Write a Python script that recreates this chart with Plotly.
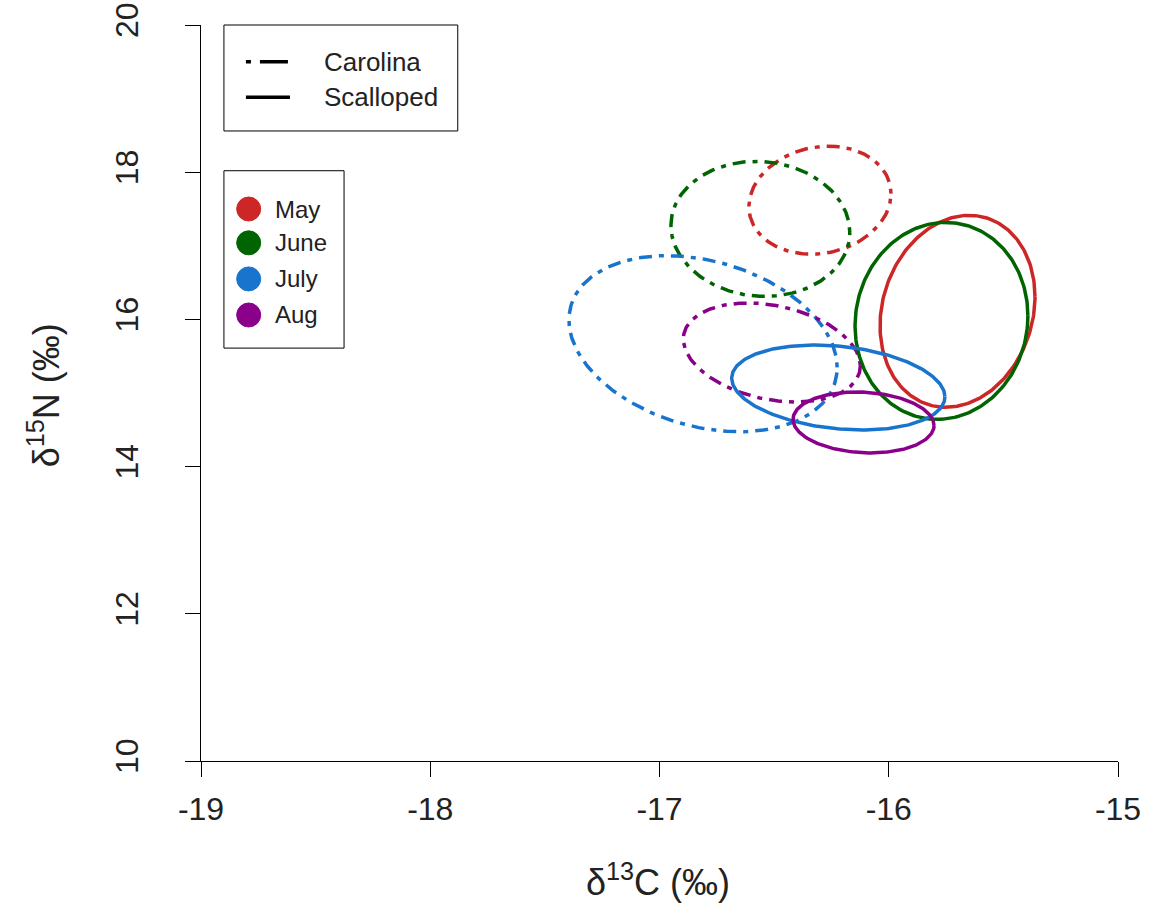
import numpy as np
import plotly.graph_objects as go

# Standard ellipses of d13C / d15N by month and species
months = ["May", "June", "July", "Aug"]
month_colors = ["#CD2626", "#006400", "#1874CD", "#8B008B"]
species = ["Carolina", "Scalloped"]
species_dash = ["5px,7px,13px,7px", "solid"]
# the short legend sample shows a single dot followed by one dash
legend_dash = ["5px,9px,28px,20px", "solid"]

# Carolina (dash-dot) ellipse parameters per month
carolina_cx = [-16.30, -16.56, -16.81, -16.51]
carolina_cy = [17.62, 17.23, 15.67, 15.55]
carolina_sx = [0.31, 0.39, 0.585, 0.386]
carolina_sy = [0.734, 0.917, 1.196, 0.673]
carolina_rho = [0.12, -0.05, -0.27, -0.27]

# Scalloped (solid) ellipse parameters per month
scalloped_cx = [-15.70, -15.77, -16.22, -16.11]
scalloped_cy = [16.11, 15.98, 15.075, 14.60]
scalloped_sx = [0.338, 0.377, 0.465, 0.3075]
scalloped_sy = [1.304, 1.338, 0.577, 0.414]
scalloped_rho = [0.15, 0.05, -0.22, -0.10]

x_ticks = [-19, -18, -17, -16, -15]
y_ticks = [10, 12, 14, 16, 18, 20]

ellipse_sets = {
    "Carolina": (carolina_cx, carolina_cy, carolina_sx, carolina_sy, carolina_rho),
    "Scalloped": (scalloped_cx, scalloped_cy, scalloped_sx, scalloped_sy, scalloped_rho),
}


def ellipse(cx, cy, sx, sy, rho, n=240):
    t = np.linspace(0, 2 * np.pi, n)
    x = cx + sx * np.cos(t)
    y = cy + sy * (rho * np.cos(t) + np.sqrt(1 - rho ** 2) * np.sin(t))
    return x, y


fig = go.Figure()
LW = 3.5
for sp, dash in zip(species, species_dash):
    cxs, cys, sxs, sys_, rhos = ellipse_sets[sp]
    for i, m in enumerate(months):
        ex, ey = ellipse(cxs[i], cys[i], sxs[i], sys_[i], rhos[i])
        fig.add_trace(go.Scatter(
            x=ex, y=ey, mode="lines", name=f"{sp} {m}",
            line=dict(color=month_colors[i], width=LW, dash=dash),
            showlegend=False, hoverinfo="skip",
        ))

FONT = "Liberation Sans, Arial, sans-serif"
shapes = []
annotations = []

# Species legend box (line types)
shapes.append(dict(type="rect", xref="paper", yref="paper",
                   x0=0.025, x1=0.280, y0=0.856, y1=1.0,
                   line=dict(color="black", width=1), fillcolor="white", layer="above"))
legend_line_y = [0.950, 0.902]
for sp, dash, ly in zip(species, legend_dash, legend_line_y):
    shapes.append(dict(type="line", xref="paper", yref="paper",
                       x0=0.049, x1=0.097, y0=ly, y1=ly,
                       line=dict(color="black", width=LW, dash=dash), layer="above"))
    annotations.append(dict(text=sp, xref="paper", yref="paper", x=0.132, y=ly,
                            xanchor="left", yanchor="middle", showarrow=False,
                            font=dict(family=FONT, size=26, color="#222222")))

# Month legend box (colours)
shapes.append(dict(type="rect", xref="paper", yref="paper",
                   x0=0.025, x1=0.156, y0=0.561, y1=0.802,
                   line=dict(color="black", width=1), fillcolor="white", layer="above"))
legend_month_y = [0.750, 0.704, 0.655, 0.606]
for m, c, ly in zip(months, month_colors, legend_month_y):
    shapes.append(dict(type="circle", xref="paper", yref="paper",
                       xsizemode="pixel", ysizemode="pixel",
                       xanchor=0.052, yanchor=ly, x0=-12, x1=12, y0=-12, y1=12,
                       line=dict(color=c, width=1), fillcolor=c, layer="above"))
    annotations.append(dict(text=m, xref="paper", yref="paper", x=0.0785, y=ly,
                            xanchor="left", yanchor="middle", showarrow=False,
                            font=dict(family=FONT, size=24, color="#222222")))

# Axis titles
annotations.append(dict(text="δ<sup>13</sup>C (‰)", xref="paper", yref="paper",
                        x=0.498, y=0, yshift=-119, xanchor="center", yanchor="middle",
                        showarrow=False, font=dict(family=FONT, size=36, color="#222222")))
annotations.append(dict(text="δ<sup>15</sup>N (‰)", xref="paper", yref="paper",
                        x=0, y=0.497, xshift=-157, xanchor="center", yanchor="middle",
                        textangle=-90, showarrow=False,
                        font=dict(family=FONT, size=36, color="#222222")))

axis_common = dict(showgrid=False, zeroline=False, showline=True, linecolor="black",
                   linewidth=1, ticks="outside", ticklen=15, tickwidth=1,
                   tickcolor="black", mirror=False, automargin=False,
                   tickfont=dict(family=FONT, size=32, color="#222222"))

fig.update_layout(
    width=1149, height=915,
    margin=dict(l=201, r=31, t=25, b=154),
    paper_bgcolor="white", plot_bgcolor="white",
    xaxis=dict(range=[-19, -15], tickvals=x_ticks, ticktext=[str(v) for v in x_ticks],
               ticklabelstandoff=5, **axis_common),
    yaxis=dict(range=[10, 20], tickvals=y_ticks, ticktext=[str(v) for v in y_ticks],
               tickangle=-90, ticklabelstandoff=34, **axis_common),
    shapes=shapes, annotations=annotations,
)

fig.write_html("out.html")
